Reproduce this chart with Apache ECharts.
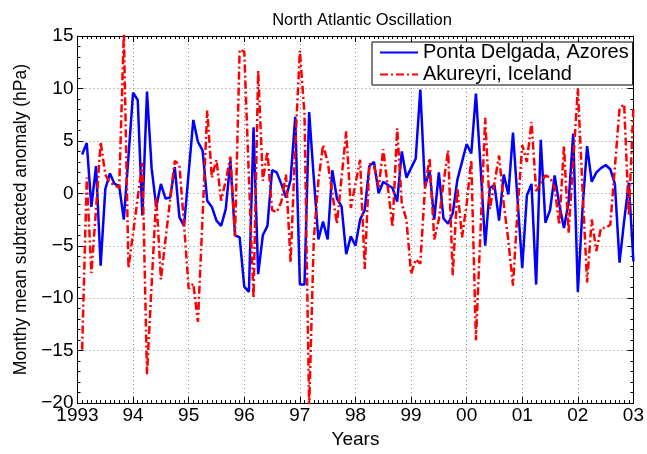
<!DOCTYPE html>
<html>
<head>
<meta charset="utf-8">
<script src="https://cdn.jsdelivr.net/npm/echarts@6/dist/echarts.min.js"></script>
<style>
html,body{margin:0;padding:0;background:#fff;}
#chart{width:647px;height:454px;}
</style>
</head>
<body>
<div id="chart"></div>
<script>
// Monthly anomalies (hPa), Jan 1993 .. Dec 2002 (plotted at 1993 + m/12, m = 1..120)
var startYear = 1993;
var azores = [
  3.7, 4.8, -1.3, 2.6, -6.9, 0.4, 1.9, 0.9, 0.7, -2.5, 3.5, 9.6,
  8.9, -2.1, 9.7, 2.4, -1.3, 0.9, -0.5, -0.4, 2.5, -2.3, -3.1, 2.0,
  7.0, 4.9, 4.1, -0.7, -1.3, -2.6, -3.1, -1.5, 3.1, -4.0, -4.2, -8.9,
  -9.4, 6.3, -7.7, -4.0, -3.1, 2.2, 2.0, 0.9, -0.4, 1.3, 7.3, -8.7,
  -8.7, 7.75, 1.5, -4.4, -2.7, -4.4, 2.2, -0.5, -1.25, -5.8, -4.1, -5.0,
  -2.5, -1.6, 2.6, 3.0, 0.0, 1.1, 0.8, 0.5, -0.8, 4.0, 1.5, 2.4,
  3.3, 9.9, 0.6, 2.2, -2.5, 2.0, -2.4, -2.9, -1.9, 1.3, 3.0, 4.7,
  3.8, 9.5, 2.6, -5.0, 0.5, 0.8, -2.6, 1.8, -0.1, 5.8, -0.7, -7.1,
  -0.2, 0.9, -8.7, 5.1, -2.8, -1.6, 1.7, -1.1, -3.3, -0.9, 5.7, -9.4,
  -1.5, 4.5, 1.1, 2.0, 2.4, 2.7, 2.3, 0.9, -6.6, -2.6, 1.0, -6.5
];
var akureyri = [
  -14.9, 1.5, -7.6, -1.5, 4.9, 1.8, 1.0, 0.8, 0.5, 15.3, -7.1, -3.8,
  -0.4, 2.9, -17.25, -8.7, -0.3, -8.2, -4.4, -0.6, 3.1, 2.7, -3.0, -9.1,
  -8.6, -12.25, -2.2, 7.9, 1.5, 3.2, -0.7, 1.2, 3.5, -4.1, 13.7, 13.5,
  1.5, -10.0, 11.7, 1.2, 4.0, -1.6, -1.8, -0.8, 1.8, -6.6, 4.5, 13.6,
  7.5, -20.5, -4.4, 1.2, 4.6, 3.0, 0.0, -2.9, 1.5, 5.9, -1.4, 0.9,
  3.2, -7.2, 2.8, 2.6, 0.6, 4.2, 0.5, -3.2, 6.2, -1.0, -2.5, -7.7,
  -6.3, -6.7, 0.5, 3.35, -4.4, -2.5, 1.0, 4.1, -7.8, 0.5, -4.2, -1.0,
  3.2, -14.0, -3.5, 7.2, -1.5, 1.0, 3.6, -1.0, -4.5, -8.8, -1.5, 4.6,
  3.0, 6.8, 0.2, 1.0, 1.7, 1.5, 0.5, -3.0, 4.5, -3.8, 3.0, 10.0,
  0.5, -8.5, -2.5, -5.5, -3.3, -3.3, -3.0, 2.5, 8.1, 8.5, -2.1, 8.2
];
var xTickLabels = ['1993', '94', '95', '96', '97', '98', '99', '00', '01', '02', '03'];
var yTickLabels = ['\u221220', '\u221215', '\u221210', '\u22125', '0', '5', '10', '15'];
var seriesNames = ['Ponta Delgada, Azores', 'Akureyri, Iceland'];

function toPairs(arr) {
  return arr.map(function (v, i) { return [startYear + (i + 1) / 12, v]; });
}

var FONT = 'Liberation Sans, Arial, Helvetica, sans-serif';
var chart = echarts.init(document.getElementById('chart'), null, {renderer: 'canvas'});

var axisLineStyle = {color: '#000', width: 1};
var gridDots = {show: true, lineStyle: {color: '#888', width: 1, type: [1, 3]}};

chart.setOption({
  animation: false,
  backgroundColor: '#fff',
  title: {
    text: 'North Atlantic Oscillation',
    left: 357,
    top: 7,
    textAlign: 'center',
    textStyle: {fontFamily: FONT, fontSize: 16.5, fontWeight: 'normal', color: '#000'}
  },
  legend: {
    orient: 'vertical',
    left: 372,
    top: 42,
    data: seriesNames,
    itemWidth: 38,
    itemHeight: 14,
    itemGap: 1,
    padding: [0, 4, 0, 7],
    borderColor: '#000',
    borderWidth: 1,
    borderRadius: 0,
    backgroundColor: '#fff',
    textStyle: {fontFamily: FONT, fontSize: 20, color: '#000', lineHeight: 21},
    itemStyle: {opacity: 0},
    lineStyle: {width: 2}
  },
  grid: {left: 77.5, right: 11, top: 36, bottom: 44},
  xAxis: [{
    type: 'value', position: 'bottom', min: 1993, max: 2003, interval: 1,
    axisLine: {show: true, onZero: false, lineStyle: axisLineStyle},
    axisTick: {show: true, inside: true, length: 6, lineStyle: axisLineStyle},
    minorTick: {show: true, splitNumber: 12, length: 3, lineStyle: {color: '#000', width: 1}},
    splitLine: gridDots,
    axisLabel: {
      margin: 3, color: '#000', fontFamily: FONT, fontSize: 19,
      formatter: function (v) { return xTickLabels[Math.round(v - startYear)]; }
    },
    name: 'Years', nameLocation: 'middle', nameGap: 23,
    nameTextStyle: {fontFamily: FONT, fontSize: 19, color: '#000'}
  }, {
    type: 'value', position: 'top', min: 1993, max: 2003, interval: 1,
    axisLine: {show: true, onZero: false, lineStyle: axisLineStyle},
    axisTick: {show: true, inside: true, length: 6, lineStyle: axisLineStyle},
    minorTick: {show: true, splitNumber: 12, length: 3, lineStyle: {color: '#000', width: 1}},
    splitLine: {show: false},
    axisLabel: {show: false}
  }],
  yAxis: [{
    type: 'value', position: 'left', min: -20, max: 15, interval: 5,
    axisLine: {show: true, onZero: false, lineStyle: axisLineStyle},
    axisTick: {show: true, inside: true, length: 6, lineStyle: axisLineStyle},
    minorTick: {show: true, splitNumber: 5, length: 3, lineStyle: {color: '#000', width: 1}},
    splitLine: gridDots,
    axisLabel: {
      margin: 4, color: '#000', fontFamily: FONT, fontSize: 19,
      formatter: function (v) { return yTickLabels[Math.round((v + 20) / 5)]; }
    },
    name: 'Monthy mean subtracted anomaly (hPa)', nameLocation: 'middle', nameRotate: 90, nameGap: 44,
    nameTextStyle: {fontFamily: FONT, fontSize: 17.5, color: '#000'}
  }, {
    type: 'value', position: 'right', min: -20, max: 15, interval: 5,
    axisLine: {show: true, onZero: false, lineStyle: axisLineStyle},
    axisTick: {show: true, inside: true, length: 6, lineStyle: axisLineStyle},
    minorTick: {show: true, splitNumber: 5, length: 3, lineStyle: {color: '#000', width: 1}},
    splitLine: {show: false},
    axisLabel: {show: false}
  }],
  series: [{
    name: seriesNames[0], type: 'line', xAxisIndex: 0, yAxisIndex: 0,
    data: toPairs(azores), symbol: 'none', showSymbol: false, clip: true,
    lineStyle: {color: '#0000ff', width: 2.5},
    itemStyle: {color: '#0000ff'}
  }, {
    name: seriesNames[1], type: 'line', xAxisIndex: 0, yAxisIndex: 0,
    data: toPairs(akureyri), symbol: 'none', showSymbol: false, clip: true,
    lineStyle: {color: '#ff0000', width: 2.5, type: [8, 3, 2, 3]},
    itemStyle: {color: '#ff0000'}
  }]
});
</script>
</body>
</html>
